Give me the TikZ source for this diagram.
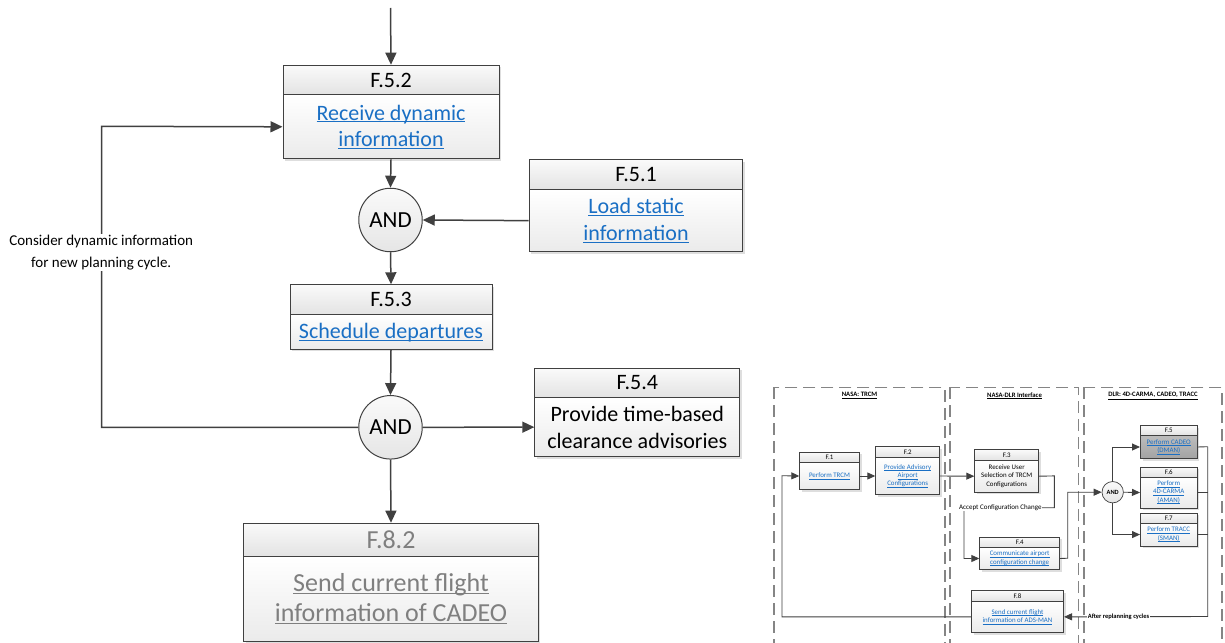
\documentclass[tikz,border=0pt]{standalone}
\usepackage{fontspec}
\setmainfont{Carlito}
\usetikzlibrary{arrows.meta}
\definecolor{ln}{HTML}{404040}
\definecolor{lnk}{HTML}{1A6FC4}
\definecolor{fad}{HTML}{7F7F7F}
\definecolor{lanec}{HTML}{858585}
\newcommand{\nodp}[1]{\raisebox{0pt}[\height][0pt]{#1}}
\newcommand{\lk}[1]{{\color{lnk}\underline{\nodp{#1}}}}
\newcommand{\fd}[1]{{\color{fad}\underline{\nodp{#1}}}}
\newcommand{\fsmain}{\fontsize{22}{26.7}\selectfont}
\newcommand{\fsbig}{\fontsize{26}{30}\selectfont}
\newcommand{\fsmini}{\fontsize{6.9}{8.3}\selectfont}
\newcommand{\fbx}[9]{%
  \fill[black!13] (#3+2.5,#4+2.5) rectangle (#5+2.5,#7+2.5);
  \node[#1hdr, minimum width=#5-#3, minimum height=#6-#4, anchor=north west] (#2h) at (#3,#4) {#8};
  \node[#1body, minimum width=#5-#3, minimum height=#7-#6, anchor=north west] (#2) at (#3,#6) {#9};
}
\tikzset{
  x=1pt, y=-1pt,
  conn/.style={draw=ln, line width=1.5pt},
  arr/.style={conn, -{Triangle[length=12pt,width=11pt]}},
  mconn/.style={draw=ln, line width=0.9pt},
  marr/.style={mconn, -{Triangle[length=8pt,width=7pt]}},
  mainhdr/.style={draw=ln, line width=1pt, top color=black!2, bottom color=black!11, inner sep=0pt, align=center, font=\fsmain},
  mainbody/.style={draw=ln, line width=1pt, top color=white, bottom color=black!8, inner sep=0pt, align=center, font=\fsmain},
  bighdr/.style={mainhdr, font=\fsbig, text=fad},
  bigbody/.style={mainbody, font=\fsbig},
  minihdr/.style={draw=ln, line width=0.7pt, top color=black!2, bottom color=black!11, inner sep=0pt, align=center, font=\fsmini},
  minibody/.style={draw=ln, line width=0.7pt, top color=white, bottom color=black!8, inner sep=0pt, align=center, font=\fsmini},
  grayhdr/.style={minihdr},
  graybody/.style={minibody, top color=black!26, bottom color=black!36},
  andc/.style={circle, draw=ln, line width=1pt, top color=black!2, bottom color=black!10, inner sep=0pt, font=\fontsize{23}{23}\selectfont},
  mandc/.style={circle, draw=ln, line width=0.7pt, top color=black!2, bottom color=black!10, inner sep=0pt, font=\bfseries\fontsize{6.4}{6.4}\selectfont},
  lbl/.style={fill=white, inner sep=1pt, align=center, font=\fontsize{15}{21.6}\selectfont},
  mlbl/.style={fill=white, inner sep=0.6pt, font=\fontsize{7}{8}\selectfont},
  mlblb/.style={mlbl, font=\bfseries\fontsize{6.5}{8}\selectfont},
  lanest/.style={draw=lanec, line width=1.3pt, dash pattern=on 12pt off 6pt},
  title/.style={font=\bfseries\fontsize{6.7}{8}\selectfont, inner sep=0pt}
}
\begin{document}
\begin{tikzpicture}
\useasboundingbox (0,0) rectangle (1225,642);
\clip (0,0) rectangle (1225,642);
\fill[white] (0,0) rectangle (1225,642);

% ---------------- main diagram ----------------
\coordinate (top) at (390.5,8);
\fbx{main}{f52}{282.5}{64.7}{498.5}{94.3}{158.3}{F.5.2}{\lk{Receive dynamic}\\\lk{information}}
\node[andc, minimum size=63.5] (and1) at (390.5,220) {AND};
\fbx{main}{f51}{528.7}{159.3}{742.3}{189.3}{251}{F.5.1}{\lk{Load static}\\\lk{information}}
\fbx{main}{f53}{289.5}{284.3}{491.5}{313.7}{348.7}{F.5.3}{\lk{Schedule departures}}
\node[andc, minimum size=63.5] (and2) at (390.5,427.3) {AND};
\fbx{main}{f54}{534.3}{367.7}{739.3}{397.3}{456}{F.5.4}{Provide time-based\\clearance advisories}
\fbx{big}{f82}{243.3}{522.7}{537.7}{555.7}{640.7}{F.8.2}{\fd{Send current flight}\\\fd{information of CADEO}}

\draw[arr] (top) -- (f52h.north);
\draw[arr] (f52.south) -- (and1.north);
\draw[arr] (f51.west) -- (and1.east);
\draw[arr] (and1.south) -- (f53h.north);
\draw[arr] (f53.south) -- (and2.north);
\draw[arr] (and2.east) -- (f54.west);
\draw[arr] (and2.south) -- (f82h.north);
\coordinate (lp) at (101.7,126.3);
\draw[arr] (and2.west) -| (lp) -- (f52.west);
\node[lbl] (cyc) at (101.2,252.5) {Consider dynamic information\\for new planning cycle.};

% ---------------- inset ----------------
\draw[lanest] (774,387.3) rectangle (945,660);
\draw[lanest] (950,387.3) rectangle (1078.3,660);
\draw[lanest] (1084,387.3) rectangle (1222,660);
\node[title] (t1) at (859.5,395.7) {\underline{NASA: TRCM}};
\node[title] (t2) at (1014.5,395.7) {\underline{NASA-DLR Interface}};
\node[title] (t3) at (1153,395.7) {\underline{DLR: 4D-CARMA, CADEO, TRACC}};

\fbx{mini}{f1}{799.3}{451.7}{859}{462.3}{489}{F.1}{\lk{Perform TRCM}}
\fbx{mini}{f2}{875.3}{446.3}{939.3}{457}{494.3}{F.2}{\lk{Provide Advisory}\\\lk{Airport}\\\lk{Configurations}}
\fbx{mini}{f3}{974.3}{449.3}{1038.3}{460}{491.7}{F.3}{Receive User\\Selection of TRCM\\Configurations}
\fbx{mini}{f4}{979.3}{536.7}{1059.3}{547.3}{569}{F.4}{\lk{Communicate airport}\\\lk{configuration change}}
\fbx{mini}{f8}{971}{590}{1063.3}{600.7}{632.3}{F.8}{\lk{Send current flight}\\\lk{information of ADS-MAN}}
\fbx{gray}{f5}{1140}{425}{1196.7}{435}{458.3}{F.5}{\lk{Perform CADEO}\\\lk{(DMAN)}}
\fbx{mini}{f6}{1140}{466.7}{1196.7}{476.7}{507.7}{F.6}{\lk{Perform}\\\lk{4D-CARMA}\\\lk{(AMAN)}}
\fbx{mini}{f7}{1140}{512.7}{1196.7}{522.7}{545.7}{F.7}{\lk{Perform TRACC}\\\lk{(SMAN)}}
\node[mandc, minimum size=21.4] (and3) at (1112.7,492.2) {AND};

\draw[marr] (f1.east) -- (f2.west);
\draw[marr] (f2.east) -- (f3.west);
\coordinate (c3a) at (1054.3,475.9);
\coordinate (c3b) at (964,507.7);
\draw[marr] (f3.east) -- (c3a) |- (c3b) |- (f4.west);
\coordinate (c4) at (1067.7,558.2);
\draw[marr] (f4.east) -- (c4) |- (and3.west);
\draw[marr] (and3.north) |- (f5.west);
\draw[marr] (and3.east) -- (f6.west);
\draw[marr] (and3.south) |- (f7.west);
\coordinate (r5) at (1207.7,446.7);
\coordinate (r8) at (1207.7,616.5);
\draw[mconn] (f5.east) -- (r5);
\draw[mconn] (f6.east) -- (r5 |- f6.east);
\draw[mconn] (f7.east) -- (r5 |- f7.east);
\draw[marr] (r5) -- (r8) -- (f8.east);
\coordinate (lp2) at (782,475.7);
\draw[marr] (f8.west) -| (lp2) -- (f1.west);
\node[mlbl] (acc) at (1000.3,507.7) {Accept Configuration Change};
\node[mlblb, anchor=west] (aft) at (1087,616.8) {After replanning cycles};
\end{tikzpicture}
\end{document}
